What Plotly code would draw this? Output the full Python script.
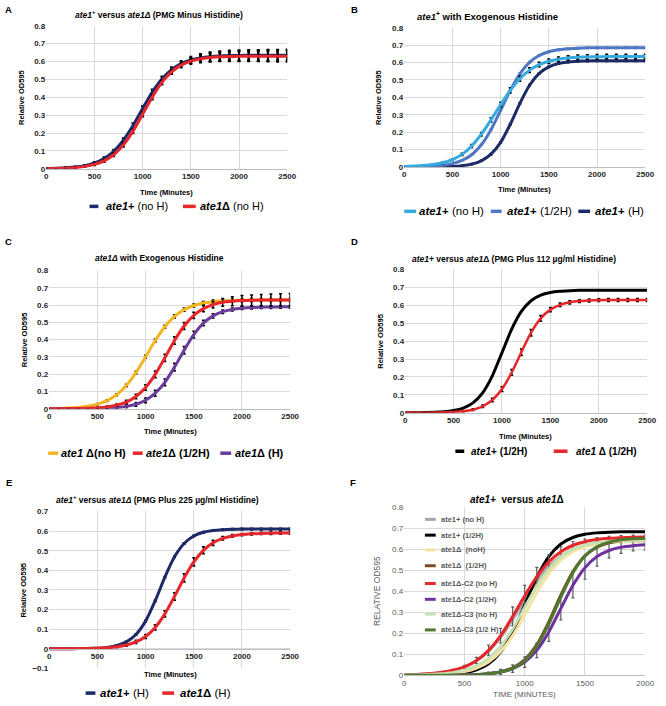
import plotly.graph_objects as go

# ---------------- data ----------------
TIME = [0, 100, 200, 300, 400, 500, 600, 700, 800, 900, 1000, 1100, 1200,
        1300, 1400, 1500, 1600, 1700, 1800, 1900, 2000, 2100, 2200, 2300, 2400, 2500]
F_TIME = [0, 100, 200, 300, 400, 500, 600, 700, 800, 900, 1000, 1100, 1200,
          1300, 1400, 1500, 1600, 1700, 1800, 1900, 2000]

# Panel A
A_ATE1_NOH = [0.002, 0.003, 0.006, 0.010, 0.018, 0.033, 0.058, 0.098, 0.160, 0.242, 0.337, 0.429, 0.502,
              0.555, 0.589, 0.609, 0.620, 0.627, 0.631, 0.633, 0.634, 0.635, 0.635, 0.635, 0.635, 0.635]
A_DEL_NOH = [0.001, 0.002, 0.004, 0.007, 0.014, 0.025, 0.045, 0.079, 0.134, 0.211, 0.306, 0.401, 0.483,
             0.542, 0.580, 0.602, 0.615, 0.622, 0.626, 0.628, 0.629, 0.630, 0.630, 0.630, 0.630, 0.630]
A_ERR_ATE1 = [0.002, 0.002, 0.003, 0.003, 0.004, 0.005, 0.007, 0.009, 0.011, 0.013, 0.015, 0.015, 0.014,
              0.013, 0.014, 0.018, 0.022, 0.025, 0.027, 0.028, 0.029, 0.030, 0.030, 0.031, 0.031, 0.032]
A_ERR_DEL = [0.002, 0.002, 0.003, 0.003, 0.004, 0.005, 0.006, 0.008, 0.010, 0.012, 0.013, 0.013, 0.012,
             0.012, 0.013, 0.016, 0.020, 0.023, 0.025, 0.026, 0.027, 0.028, 0.029, 0.030, 0.031, 0.032]

# Panel B
B_NOH = [0.003, 0.005, 0.008, 0.014, 0.024, 0.042, 0.072, 0.120, 0.188, 0.270, 0.358, 0.440, 0.507,
         0.556, 0.588, 0.607, 0.619, 0.626, 0.630, 0.632, 0.633, 0.634, 0.635, 0.635, 0.635, 0.635]
B_HALF = [0.001, 0.001, 0.002, 0.005, 0.010, 0.019, 0.037, 0.070, 0.127, 0.214, 0.325, 0.440, 0.535,
          0.601, 0.640, 0.662, 0.673, 0.679, 0.682, 0.684, 0.685, 0.685, 0.685, 0.685, 0.685, 0.685]
B_H = [0.000, 0.000, 0.000, 0.001, 0.002, 0.003, 0.007, 0.016, 0.035, 0.073, 0.141, 0.245, 0.365,
       0.469, 0.537, 0.575, 0.594, 0.603, 0.607, 0.609, 0.610, 0.610, 0.610, 0.610, 0.610, 0.610]
B_ERR_NOH = [0.002, 0.002, 0.003, 0.003, 0.004, 0.005, 0.006, 0.008, 0.010, 0.012, 0.014, 0.015, 0.015,
             0.014, 0.013, 0.013, 0.013, 0.013, 0.013, 0.013, 0.013, 0.013, 0.013, 0.013, 0.013, 0.013]

# Panel C
C_NOH = [0.001, 0.002, 0.004, 0.008, 0.015, 0.027, 0.047, 0.081, 0.135, 0.209, 0.301, 0.395, 0.475,
         0.535, 0.574, 0.598, 0.612, 0.620, 0.625, 0.627, 0.628, 0.629, 0.630, 0.630, 0.630, 0.630]
C_HALF = [0.000, 0.000, 0.001, 0.002, 0.003, 0.006, 0.011, 0.021, 0.039, 0.071, 0.123, 0.199, 0.295,
          0.395, 0.479, 0.541, 0.580, 0.603, 0.616, 0.622, 0.626, 0.628, 0.629, 0.630, 0.630, 0.630]
C_H = [0.000, 0.000, 0.000, 0.001, 0.001, 0.002, 0.004, 0.007, 0.014, 0.026, 0.049, 0.090, 0.153,
       0.241, 0.339, 0.429, 0.496, 0.538, 0.562, 0.575, 0.582, 0.586, 0.588, 0.589, 0.590, 0.590]
C_ERR_NOH = [0.001, 0.001, 0.002, 0.002, 0.003, 0.004, 0.005, 0.006, 0.007, 0.008, 0.009, 0.009, 0.009,
             0.009, 0.009, 0.009, 0.009, 0.009, 0.009, 0.009, 0.009, 0.009, 0.009, 0.009, 0.009, 0.009]
C_ERR_HALF = [0.001, 0.001, 0.001, 0.002, 0.003, 0.004, 0.005, 0.007, 0.010, 0.013, 0.016, 0.019, 0.021,
              0.022, 0.020, 0.018, 0.018, 0.020, 0.023, 0.026, 0.029, 0.031, 0.033, 0.035, 0.036, 0.037]
C_ERR_H = [0.001, 0.001, 0.001, 0.001, 0.002, 0.003, 0.004, 0.006, 0.008, 0.011, 0.014, 0.017, 0.020,
           0.022, 0.022, 0.020, 0.016, 0.012, 0.010, 0.009, 0.008, 0.008, 0.008, 0.008, 0.008, 0.008]

# Panel D
D_ATE1_HALF = [0.000, 0.000, 0.001, 0.002, 0.005, 0.012, 0.026, 0.055, 0.111, 0.206, 0.336, 0.467, 0.566,
               0.626, 0.657, 0.672, 0.679, 0.682, 0.684, 0.685, 0.685, 0.685, 0.685, 0.685, 0.685, 0.685]
D_DEL_HALF = [0.000, 0.000, 0.000, 0.001, 0.002, 0.004, 0.008, 0.017, 0.036, 0.071, 0.132, 0.225, 0.338,
              0.447, 0.527, 0.576, 0.603, 0.617, 0.624, 0.627, 0.629, 0.630, 0.630, 0.630, 0.630, 0.630]
D_ERR_DEL = [0.001, 0.001, 0.001, 0.001, 0.002, 0.002, 0.003, 0.005, 0.007, 0.010, 0.013, 0.016, 0.018,
             0.018, 0.016, 0.012, 0.010, 0.009, 0.008, 0.008, 0.008, 0.008, 0.008, 0.008, 0.008, 0.008]

# Panel E
E_ATE1_H = [0.000, 0.000, 0.000, 0.001, 0.002, 0.003, 0.007, 0.016, 0.035, 0.073, 0.141, 0.245, 0.365,
            0.469, 0.537, 0.575, 0.594, 0.603, 0.607, 0.609, 0.610, 0.610, 0.610, 0.610, 0.610, 0.610]
E_DEL_H = [0.000, 0.000, 0.000, 0.001, 0.001, 0.003, 0.005, 0.010, 0.019, 0.035, 0.063, 0.109, 0.178,
           0.267, 0.361, 0.443, 0.502, 0.540, 0.563, 0.575, 0.582, 0.586, 0.588, 0.589, 0.590, 0.590]
E_ERR_ATE1 = [0.001, 0.001, 0.001, 0.001, 0.001, 0.002, 0.002, 0.003, 0.003, 0.004, 0.004, 0.004, 0.004,
              0.004, 0.004, 0.004, 0.004, 0.004, 0.004, 0.004, 0.004, 0.004, 0.004, 0.004, 0.004, 0.004]
E_ERR_DEL = [0.001, 0.001, 0.001, 0.001, 0.001, 0.002, 0.003, 0.004, 0.006, 0.008, 0.010, 0.013, 0.016,
             0.019, 0.021, 0.021, 0.018, 0.013, 0.009, 0.007, 0.006, 0.006, 0.006, 0.006, 0.006, 0.006]

# Panel F
F_ATE1_NOH = [0.002, 0.004, 0.007, 0.013, 0.023, 0.040, 0.069, 0.115, 0.181, 0.266, 0.361, 0.448, 0.519,
              0.568, 0.600, 0.619, 0.630, 0.637, 0.640, 0.642, 0.643]
F_ATE1_HALF = [0.000, 0.000, 0.001, 0.002, 0.005, 0.012, 0.026, 0.055, 0.111, 0.206, 0.336, 0.467, 0.566,
               0.626, 0.657, 0.672, 0.679, 0.682, 0.684, 0.685, 0.685]
F_DEL_NOH = [0.001, 0.001, 0.003, 0.005, 0.009, 0.018, 0.035, 0.064, 0.114, 0.189, 0.288, 0.394, 0.484,
             0.549, 0.590, 0.613, 0.626, 0.633, 0.636, 0.638, 0.639]
F_DEL_HALF = [0.000, 0.000, 0.000, 0.000, 0.001, 0.002, 0.003, 0.008, 0.017, 0.036, 0.075, 0.146, 0.255,
              0.383, 0.495, 0.570, 0.611, 0.632, 0.642, 0.646, 0.648]
F_C2_NOH = [0.002, 0.004, 0.007, 0.013, 0.023, 0.040, 0.071, 0.119, 0.189, 0.281, 0.379, 0.470, 0.541,
            0.589, 0.620, 0.637, 0.647, 0.653, 0.656, 0.658, 0.659]
F_C2_HALF = [0.000, 0.000, 0.000, 0.000, 0.001, 0.002, 0.004, 0.008, 0.016, 0.032, 0.063, 0.119, 0.207,
             0.319, 0.429, 0.513, 0.566, 0.595, 0.611, 0.618, 0.622]
F_C3_NOH = [0.001, 0.002, 0.004, 0.007, 0.013, 0.025, 0.045, 0.081, 0.139, 0.221, 0.323, 0.424, 0.506,
            0.564, 0.600, 0.621, 0.632, 0.638, 0.641, 0.643, 0.644]
F_C3_HALF = [0.000, 0.000, 0.000, 0.000, 0.001, 0.001, 0.003, 0.007, 0.016, 0.033, 0.070, 0.138, 0.244,
             0.373, 0.489, 0.569, 0.613, 0.635, 0.646, 0.651, 0.653]
F_ERR_C2_NOH = [0.001, 0.001, 0.002, 0.003, 0.005, 0.008, 0.015, 0.025, 0.035, 0.045, 0.050, 0.045, 0.035,
                0.025, 0.018, 0.012, 0.010, 0.010, 0.010, 0.010, 0.010]
F_ERR_C2_HALF = [0.000, 0.000, 0.000, 0.001, 0.001, 0.002, 0.004, 0.008, 0.012, 0.018, 0.025, 0.035, 0.045,
                 0.055, 0.060, 0.055, 0.045, 0.035, 0.030, 0.025, 0.025]

F_NAMES = ["ate1+ (no H)", "ate1+ (1/2H)", "ate1\u0394  (noH)", "ate1\u0394  (1/2H)",
           "ate1\u0394-C2 (no H)", "ate1\u0394-C2 (1/2H)", "ate1\u0394-C3 (no H)", "ate1\u0394-C3 (1/2 H)"]

# ---------------- styling ----------------
W, H = 666, 706
FONT = "Liberation Sans"
NAVY = "#1C2A68"
RED = "#E5262A"
CYAN = "#35AADF"
MBLUE = "#4F78C4"
YELLOW = "#F3B520"
PURPLE = "#6A3C9C"
F_COLORS = ["#A6A6A6", "#000000", "#F5E3A3", "#7E4A26", "#E5262A", "#7030A0", "#C8E1B3", "#50792F"]


def fx(p):
    return p / W


def fy(p):
    return 1 - p / H


# plot-area pixel boxes: left, right, top(y max), bottom(y min)
PANELS = {
    1: dict(l=45, r=290, t=22, b=167, yr=[0, 0.8], xr=[0, 2500]),
    2: dict(l=409, r=654, t=24, b=165, yr=[0, 0.8], xr=[0, 2500]),
    3: dict(l=48, r=293, t=270, b=410, yr=[0, 0.8], xr=[0, 2500]),
    4: dict(l=410, r=656, t=269, b=414, yr=[0, 0.8], xr=[0, 2500]),
    5: dict(l=48, r=293, t=514, b=673, yr=[-0.1, 0.7], xr=[0, 2500]),
    6: dict(l=409, r=654, t=510, b=680, yr=[0, 0.8], xr=[0, 2000]),
}

fig = go.Figure()


def add_line(i, x, y, color, width=3, err=None, errcolor="#000000", errthick=1.5, errw=1.5):
    kw = {}
    if err is not None:
        kw["error_y"] = dict(type="data", array=err, visible=True, color=errcolor,
                             thickness=errthick, width=errw)
    fig.add_trace(go.Scatter(
        x=x, y=y, mode="lines", line=dict(color=color, width=width, shape="spline", smoothing=0.6),
        xaxis="x" if i == 1 else f"x{i}", yaxis="y" if i == 1 else f"y{i}",
        showlegend=False, hoverinfo="skip", **kw))


# A
add_line(1, TIME, A_ATE1_NOH, NAVY, 3, A_ERR_ATE1, errthick=2, errw=1.5)
add_line(1, TIME, A_DEL_NOH, RED, 3, A_ERR_DEL, errthick=2, errw=1.5)
# B
add_line(2, TIME, B_H, NAVY, 3, E_ERR_ATE1)
add_line(2, TIME, B_HALF, MBLUE, 3, E_ERR_ATE1, errcolor=MBLUE)
add_line(2, TIME, B_NOH, CYAN, 3, B_ERR_NOH)
# C
add_line(3, TIME, C_NOH, YELLOW, 3, C_ERR_NOH)
add_line(3, TIME, C_H, PURPLE, 3, C_ERR_H)
add_line(3, TIME, C_HALF, RED, 3, C_ERR_HALF)
# D
add_line(4, TIME, D_ATE1_HALF, "#000000", 3)
add_line(4, TIME, D_DEL_HALF, RED, 2.5, D_ERR_DEL)
# E
add_line(5, TIME, E_ATE1_H, NAVY, 3, E_ERR_ATE1)
add_line(5, TIME, E_DEL_H, RED, 3, E_ERR_DEL)
# F
F_SERIES = [F_ATE1_NOH, F_ATE1_HALF, F_DEL_NOH, F_DEL_HALF, F_C2_NOH, F_C2_HALF, F_C3_NOH, F_C3_HALF]
F_ERRS = [None, None, None, None, F_ERR_C2_NOH, F_ERR_C2_HALF, None, None]
for ys, col, er in zip(F_SERIES, F_COLORS, F_ERRS):
    add_line(6, F_TIME, ys, col, 3, er, errcolor="#595959", errthick=1.2, errw=1.5)

layout = dict(width=W, height=H, margin=dict(l=0, r=0, t=0, b=0),
              paper_bgcolor="white", plot_bgcolor="white", showlegend=False)

for i, p in PANELS.items():
    xs = "xaxis" if i == 1 else f"xaxis{i}"
    ys = "yaxis" if i == 1 else f"yaxis{i}"
    xa = "x" if i == 1 else f"x{i}"
    ya = "y" if i == 1 else f"y{i}"
    tf = dict(family=FONT, size=8, color="#262626", weight="bold")
    if i == 6:
        tf = dict(family=FONT, size=8, color="#595959")
    xax = dict(domain=[fx(p["l"]), fx(p["r"])], range=p["xr"], tick0=0, dtick=500,
               showgrid=True, gridcolor="#D9D9D9", gridwidth=1, zeroline=False,
               showline=True, linecolor="#BFBFBF", linewidth=1, ticks="",
               tickfont=tf, anchor=ya, fixedrange=True)
    if i == 5:
        xax["anchor"] = "free"
        xax["position"] = fy(653)
    yax = dict(domain=[fy(p["b"]), fy(p["t"])], range=p["yr"], tick0=0, dtick=0.1,
               showgrid=True, gridcolor="#D9D9D9", gridwidth=1, zeroline=False,
               showline=False, ticks="", tickfont=tf, anchor=xa, fixedrange=True)
    layout[xs] = xax
    layout[ys] = yax

fig.update_layout(**layout)

ann = []
shapes = []


def text(x, y, s, size, color="#000000", anchor="center", angle=0, family=FONT):
    ann.append(dict(x=fx(x), y=fy(y), xref="paper", yref="paper", text=s, showarrow=False,
                    xanchor=anchor, yanchor="middle", textangle=angle,
                    font=dict(family=family, size=size, color=color)))


def swatch(x0, x1, y, color, lw=3.5):
    shapes.append(dict(type="line", xref="paper", yref="paper", x0=fx(x0), x1=fx(x1),
                       y0=fy(y), y1=fy(y), line=dict(color=color, width=lw)))


# panel letters
for lab, x, y in [("A", 7, 6), ("B", 358, 6), ("C", 7, 241), ("D", 358, 241), ("E", 7, 485), ("F", 357, 485)]:
    text(x, y, f"<b>{lab}</b>", 9.5)

# titles
text(160, 11, "<b><i>ate1</i><sup>+</sup> versus <i>ate1\u0394</i> (PMG Minus Histidine)</b>", 8.5)
text(494, 12, "<b><i>ate1</i><sup>+</sup> with Exogenous Histidine</b>", 9.5)
text(160, 257, "<b><i>ate1\u0394</i> with Exogenous Histidine</b>", 8.5)
text(521, 258, "<b><i>ate1</i>+ versus <i>ate1</i>\u0394 (PMG Plus 112 \u00b5g/ml Histidine)</b>", 8.5)
text(158, 502, "<b><i>ate1</i><sup>+</sup> versus <i>ate1\u0394</i> (PMG Plus 225 \u00b5g/ml Histidine)</b>", 8.5)
text(524, 502, "<b><i>ate1+</i>\u00a0 versus <i>ate1</i>\u0394</b>", 10)

# axis titles
for x, y in [(167, 191), (531, 188), (171, 433), (532, 438), (171, 679)]:
    text(x, y, "<b>Time (Minutes)</b>", 7.5)
text(531, 699, "TIME (MINUTES)", 8, color="#595959")
for i, x in [(1, 20), (2, 383), (3, 23), (4, 385), (5, 22)]:
    p = PANELS[i]
    text(x, (p["t"] + p["b"]) / 2, "<b>Relative OD595</b>", 7.5, angle=-90)
text(382, (510 + 680) / 2, "RELATIVE OD595", 8.5, color="#595959", angle=-90)

# legends
swatch(89, 98, 205, NAVY); text(104, 205, "<b><i>ate1</i>+</b> (no H)", 11, anchor="left")
swatch(184, 197, 205, RED); text(199, 205, "<b><i>ate1</i>\u0394</b> (no H)", 11, anchor="left")

swatch(409, 421, 210, CYAN); text(422, 210, "<b><i>ate1</i>+</b> (no H)", 11.5, anchor="left")
swatch(497, 508, 210, MBLUE); text(511, 210, "<b><i>ate1</i>+</b> (1/2H)", 11.5, anchor="left")
swatch(586, 598, 210, NAVY); text(601, 210, "<b><i>ate1</i>+</b> (H)", 11.5, anchor="left")

swatch(47, 57, 455, YELLOW); text(58, 455, "<b><i>ate1</i> \u0394(no H)</b>", 11, anchor="left")
swatch(133, 143, 455, RED); text(144, 455, "<b><i>ate1</i>\u0394 (1/2H)</b>", 11, anchor="left")
swatch(222, 233, 455, PURPLE); text(235, 455, "<b><i>ate1</i>\u0394 (H)</b>", 11, anchor="left")

swatch(461, 470, 453, "#000000"); text(475, 453, "<b><i>ate1</i>+ (1/2H)</b>", 10, anchor="left")
swatch(561, 575, 453, RED); text(582, 453, "<b><i>ate1</i> \u0394 (1/2H)</b>", 10, anchor="left")

swatch(85, 95, 698, NAVY); text(98, 698, "<b><i>ate1</i>+</b> (H)", 11.5, anchor="left")
swatch(163, 175, 698, RED); text(179, 698, "<b><i>ate1</i>\u0394</b> (H)", 11.5, anchor="left")

F_ROWS = [522, 538, 553, 569, 587, 603, 618, 634]
for name, col, yy in zip(F_NAMES, F_COLORS, F_ROWS):
    swatch(430, 441, yy, col, lw=3)
    text(444, yy, f"<b>{name}</b>", 7.5, color="#595959", anchor="left")

fig.update_layout(annotations=ann, shapes=shapes)
fig.write_html("out.html", config={"displayModeBar": False},
               post_script="document.body.style.margin='0px';document.body.style.overflow='hidden';")
